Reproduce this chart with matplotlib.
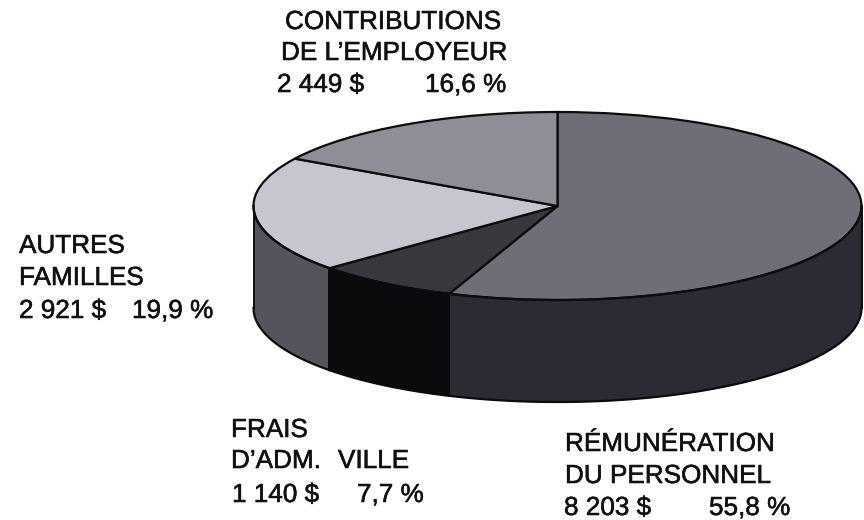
import numpy as np
import matplotlib
matplotlib.use('Agg')
import matplotlib.pyplot as plt
import matplotlib.patheffects as pe

plt.rcParams['font.family'] = ['Liberation Sans', 'DejaVu Sans']

# slices, clockwise from the top
categories = ['RÉMUNÉRATION DU PERSONNEL', "FRAIS D'ADM. VILLE", 'AUTRES FAMILLES', "CONTRIBUTIONS DE L'EMPLOYEUR"]
amounts = [8203, 1140, 2921, 2449]
percents = [55.8, 7.7, 19.9, 16.6]
amount_labels = ['8 203 $', '1 140 $', '2 921 $', '2 449 $']
percent_labels = ['55,8 %', '7,7 %', '19,9 %', '16,6 %']

top_colors = ['#6e6e77', '#37373e', '#c6c6ce', '#8e8e96']
wall_colors = ['#2b2b33', '#0b0b0d', '#54545c', '#54545c']
line_color = '#0c0c0e'

W, H = 864, 520
cx, cy = 557.5, 206
rx, ry = 304, 94
depth = 102 / ry


def px(x, y, text):
    fig.text(x / W, 1 - y / H, text, fontsize=18.8, color='#111111', va='baseline',
             path_effects=[pe.withStroke(linewidth=0.4, foreground='#111111')])


fig = plt.figure(figsize=(W / 100, H / 100), dpi=100)
ax = fig.add_axes([0, 0, 1, 1])

ax.pie(percents, colors=top_colors, startangle=90, counterclock=False, radius=1,
       wedgeprops={'edgecolor': line_color, 'linewidth': 1.6, 'zorder': 5})
ax.set_aspect('auto')
ax.set_xlim(-cx / rx, (W - cx) / rx)
ax.set_ylim(-(H - cy) / ry, cy / ry)

# side wall of each slice, front half only
ends = 90 - np.cumsum(percents) / sum(percents) * 360
starts = np.r_[90, ends[:-1]]
for a, b, c in zip(starts, ends, wall_colors):
    hi = min(a, 0)
    lo = max(b, -180)
    if lo >= hi:
        continue
    t = np.radians(np.linspace(lo, hi, 120))
    x, y = np.cos(t), np.sin(t)
    ax.fill_between(x, y, y - depth, color=c, lw=0, zorder=2)
    ax.plot(x, y - depth, color=line_color, lw=1.6, zorder=3)
    ax.plot(x, y, color=line_color, lw=1.6, zorder=6)
    ax.plot([x[0], x[0]], [y[0], y[0] - depth], color=line_color, lw=1.4, zorder=3)
    ax.plot([x[-1], x[-1]], [y[-1], y[-1] - depth], color=line_color, lw=1.4, zorder=3)

px(285, 29, 'CONTRIBUTIONS')
px(281, 60, 'DE L’EMPLOYEUR')
px(277, 92, amount_labels[3])
px(425, 92, percent_labels[3])

px(19, 253, 'AUTRES')
px(19, 285, 'FAMILLES')
px(19, 318, amount_labels[2])
px(132, 318, percent_labels[2])

px(231, 437, 'FRAIS')
px(231, 468, 'D’ADM.')
px(338, 468, 'VILLE')
px(232, 502, amount_labels[1])
px(357, 502, percent_labels[1])

px(565, 451, 'RÉMUNÉRATION')
px(565, 483, 'DU PERSONNEL')
px(564, 515, amount_labels[0])
px(709, 515, percent_labels[0])

fig.savefig('out.png', dpi=100, facecolor='white')
